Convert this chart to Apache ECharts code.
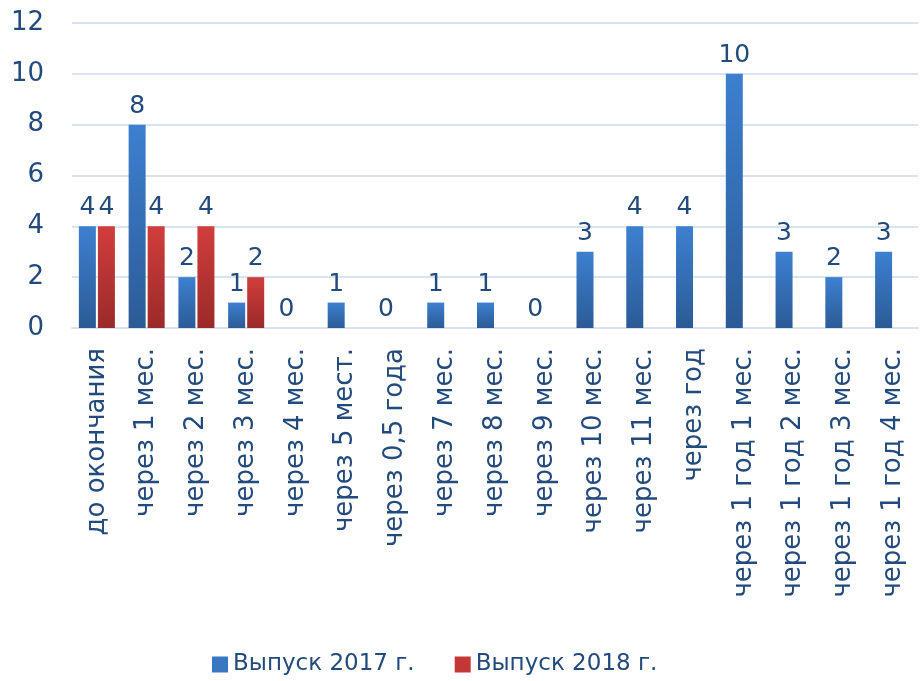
<!DOCTYPE html>
<html>
<head>
<meta charset="utf-8">
<script src="https://cdn.jsdelivr.net/npm/echarts@6/dist/echarts.min.js"></script>
<style>
  html, body { margin: 0; padding: 0; background: #fff; }
  #chart { width: 921px; height: 681px; }
</style>
</head>
<body>
<div id="chart"></div>
<script>
const categories = ['до окончания', 'через 1 мес.', 'через 2 мес.', 'через 3 мес.', 'через 4 мес.',
  'через 5 мест.', 'через 0,5 года', 'через 7 мес.', 'через 8 мес.', 'через 9 мес.',
  'через 10 мес.', 'через 11 мес.', 'через год', 'через 1 год 1 мес.', 'через 1 год 2 мес.',
  'через 1 год 3 мес.', 'через 1 год 4 мес.'];
const values2017 = [4, 8, 2, 1, 0, 1, 0, 1, 1, 0, 3, 4, 4, 10, 3, 2, 3];
const values2018 = [4, 4, 4, 2, null, null, null, null, null, null, null, null, null, null, null, null, null];
const yTicks = { min: 0, max: 12, interval: 2 };

const textColor = '#234a7c';
const fontFamily = '"DejaVu Sans", sans-serif';

function grad(top, bottom) {
  return new echarts.graphic.LinearGradient(0, 0, 0, 1, [
    { offset: 0, color: top },
    { offset: 1, color: bottom }
  ]);
}

const chart = echarts.init(document.getElementById('chart'));
chart.setOption({
  textStyle: { fontFamily: fontFamily },
  animation: false,
  grid: { left: 72, right: 3, top: 23, bottom: 353, containLabel: false },
  legend: {
    top: 648,
    left: 207,
    itemWidth: 16,
    itemHeight: 16,
    itemGap: 40,
    icon: 'rect',
    textStyle: { color: textColor, fontSize: 23, fontFamily: fontFamily },
    data: [
      { name: 'Выпуск 2017 г.', itemStyle: { color: '#3a77c2' } },
      { name: 'Выпуск 2018 г.', itemStyle: { color: '#c33836' } }
    ]
  },
  xAxis: {
    type: 'category',
    data: categories,
    axisLine: { show: true, lineStyle: { color: '#d9e3f1', width: 2 } },
    axisTick: { show: false },
    axisLabel: {
      rotate: 90,
      interval: 0,
      color: textColor,
      fontSize: 26,
      margin: 20,
      fontFamily: fontFamily
    }
  },
  yAxis: {
    type: 'value',
    min: yTicks.min,
    max: yTicks.max,
    interval: yTicks.interval,
    axisLine: { show: false },
    axisTick: { show: false },
    splitLine: { lineStyle: { color: '#d9e3f1', width: 2 } },
    axisLabel: { color: textColor, fontSize: 26, margin: 28, fontFamily: fontFamily }
  },
  series: [
    {
      name: 'Выпуск 2017 г.',
      type: 'bar',
      data: values2017,
      barWidth: 17,
      barGap: '12%',
      itemStyle: { color: grad('#3d80d0', '#2b5b96'), borderWidth: 0 },
      label: { show: true, position: 'top', color: textColor, fontSize: 25, distance: 6, fontFamily: fontFamily }
    },
    {
      name: 'Выпуск 2018 г.',
      type: 'bar',
      data: values2018,
      barWidth: 17,
      itemStyle: { color: grad('#d13e3c', '#9a2a29'), borderWidth: 0 },
      label: { show: true, position: 'top', color: textColor, fontSize: 25, distance: 6, fontFamily: fontFamily }
    }
  ]
});
</script>
</body>
</html>
